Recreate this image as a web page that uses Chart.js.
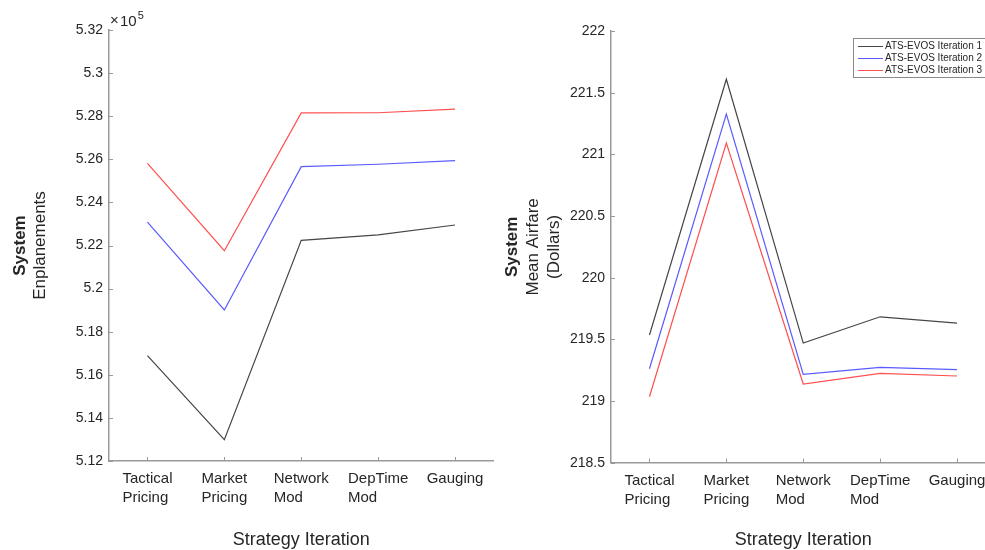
<!DOCTYPE html>
<html lang="en">
<head>
    <meta charset="UTF-8">
    <title>Strategy Iteration - Enplanements and Mean Airfare</title>
    <script src="https://cdn.jsdelivr.net/npm/chart.js"></script>
    <style>
        html, body { margin: 0; padding: 0; background: #fff; overflow: hidden; }
        #wrap { position: relative; width: 985px; height: 550px; overflow: hidden; }
        .panel { position: absolute; top: 0; width: 500px; height: 550px; }
    </style>
</head>
<body>
<div id="wrap">
    <div class="panel" style="left:0"><canvas id="enplChart" width="500" height="550"></canvas></div>
    <div class="panel" style="left:500px"><canvas id="fareChart" width="500" height="550"></canvas></div>
</div>
<script>
    // Strategy steps (x categories)
    const strategies = [['Tactical', 'Pricing'], ['Market', 'Pricing'], ['Network', 'Mod'], ['DepTime', 'Mod'], ['Gauging']];
    const seriesNames = ['ATS-EVOS Iteration 1', 'ATS-EVOS Iteration 2', 'ATS-EVOS Iteration 3'];

    // System enplanements
    const enplIter1 = [516890, 512990, 522240, 522490, 522950];
    const enplIter2 = [523080, 519010, 525660, 525770, 525940];
    const enplIter3 = [525810, 521760, 528150, 528160, 528330];

    // System mean airfare, dollars
    const fareIter1 = [219.535, 221.609, 219.470, 219.683, 219.632];
    const fareIter2 = [219.262, 221.327, 219.216, 219.273, 219.254];
    const fareIter3 = [219.035, 221.092, 219.138, 219.224, 219.203];

    // y axis ranges / tick steps
    const enplRange = [512000, 532000], enplStep = 2000;
    const fareRange = [218.5, 222], fareStep = 0.5;

    const FONT = '"Liberation Sans", Arial, Helvetica, sans-serif';
    const TEXT = '#262626';
    const AXIS = '#999999';
    const lineColors = ['#464646', '#5a5aff', '#ff5050'];

    // draws the matlab-ish bits: inward ticks, left aligned category labels, titles, legend
    function matlabDecor(cfg) {
        return {
            id: 'matlabDecor',
            afterDraw(chart) {
                const ctx = chart.ctx, area = chart.chartArea;
                const xs = chart.scales.x, ys = chart.scales.y;
                ctx.save();

                ctx.strokeStyle = AXIS;
                ctx.lineWidth = 1;
                ctx.beginPath();
                ys.ticks.forEach(t => {
                    const py = Math.round(ys.getPixelForValue(t.value)) + 0.5;
                    ctx.moveTo(area.left, py);
                    ctx.lineTo(area.left + 4, py);
                });
                xs.getLabels().forEach((l, i) => {
                    const px = Math.round(xs.getPixelForValue(i)) + 0.5;
                    ctx.moveTo(px, area.bottom);
                    ctx.lineTo(px, area.bottom - 4);
                });
                ctx.stroke();

                // category labels, lines left aligned, block centred on the tick
                ctx.fillStyle = TEXT;
                ctx.font = '15px ' + FONT;
                ctx.textAlign = 'left';
                ctx.textBaseline = 'alphabetic';
                xs.getLabels().forEach((lab, i) => {
                    const lines = Array.isArray(lab) ? lab : [lab];
                    const w = Math.max(...lines.map(s => ctx.measureText(s).width));
                    const px = xs.getPixelForValue(i);
                    lines.forEach((s, j) => ctx.fillText(s, px - w / 2, area.bottom + 22 + j * 19));
                });

                // x title
                ctx.font = '18px ' + FONT;
                ctx.textAlign = 'center';
                ctx.fillText('Strategy Iteration', (area.left + area.right) / 2, 544.5);

                // y title, rotated, one entry per line
                const cy = (area.top + area.bottom) / 2;
                cfg.yTitle.forEach(line => {
                    ctx.save();
                    ctx.translate(line.x, cy);
                    ctx.rotate(-Math.PI / 2);
                    ctx.font = (line.bold ? 'bold ' : '') + '17px ' + FONT;
                    ctx.textAlign = 'center';
                    ctx.fillText(line.text, 0, 0);
                    ctx.restore();
                });

                // exponent label
                if (cfg.exponent) {
                    ctx.textAlign = 'left';
                    ctx.font = '15px ' + FONT;
                    ctx.fillText('\u00d7', area.left + 1, 25);
                    ctx.fillText('10', area.left + 11, 26);
                    const w = ctx.measureText('10').width;
                    ctx.font = '11px ' + FONT;
                    ctx.fillText(cfg.exponent, area.left + 11 + w + 1, 19);
                }

                // legend box
                if (cfg.legend) {
                    const L = cfg.legend;
                    ctx.fillStyle = '#fff';
                    ctx.fillRect(L.x, L.y, L.w, L.h);
                    ctx.strokeStyle = '#8a8a8a';
                    ctx.lineWidth = 1;
                    ctx.strokeRect(L.x + 0.5, L.y + 0.5, L.w, L.h);
                    ctx.font = '10px ' + FONT;
                    ctx.textAlign = 'left';
                    ctx.textBaseline = 'middle';
                    chart.data.datasets.forEach((ds, i) => {
                        const yy = L.y + 8 + i * 12 + 0.5;
                        ctx.strokeStyle = ds.borderColor;
                        ctx.beginPath();
                        ctx.moveTo(L.x + 5, yy);
                        ctx.lineTo(L.x + 30, yy);
                        ctx.stroke();
                        ctx.fillStyle = TEXT;
                        ctx.fillText(ds.label, L.x + 32, yy);
                    });
                }
                ctx.restore();
            }
        };
    }

    function makeDatasets(series) {
        return series.map((d, i) => ({
            label: seriesNames[i],
            data: d,
            borderColor: lineColors[i],
            backgroundColor: lineColors[i],
            borderWidth: 1.2,
            pointRadius: 0,
            tension: 0,
            fill: false
        }));
    }

    function makeOptions(range, step, fmt, yWidth, xHeight, pad) {
        return {
            responsive: false,
            animation: false,
            layout: { padding: pad },
            plugins: { legend: { display: false }, tooltip: { enabled: false } },
            scales: {
                x: {
                    type: 'category',
                    offset: true,
                    grid: { display: false, drawTicks: false },
                    border: { display: true, color: AXIS, width: 1.5 },
                    ticks: { display: false },
                    afterFit(s) { s.height = xHeight; }
                },
                y: {
                    min: range[0],
                    max: range[1],
                    grid: { display: false, drawTicks: false },
                    border: { display: true, color: AXIS, width: 1.5 },
                    ticks: {
                        stepSize: step,
                        padding: 6,
                        color: TEXT,
                        font: { family: FONT, size: 14 },
                        callback: fmt
                    },
                    afterFit(s) { s.width = yWidth; }
                }
            }
        };
    }

    new Chart(document.getElementById('enplChart'), {
        type: 'line',
        data: { labels: strategies, datasets: makeDatasets([enplIter1, enplIter2, enplIter3]) },
        options: makeOptions(enplRange, enplStep,
            v => String(parseFloat((v / 1e5).toFixed(2))),
            109, 89, { left: 0, top: 30, right: 6.5, bottom: 0 }),
        plugins: [matlabDecor({
            yTitle: [{ text: 'System', bold: true, x: 25 }, { text: 'Enplanements', bold: false, x: 45 }],
            exponent: '5'
        })]
    });

    new Chart(document.getElementById('fareChart'), {
        type: 'line',
        data: { labels: strategies, datasets: makeDatasets([fareIter1, fareIter2, fareIter3]) },
        options: makeOptions(fareRange, fareStep,
            v => String(parseFloat(v.toFixed(2))),
            111, 87.3, { left: 0, top: 31, right: 4.5, bottom: 0 }),
        plugins: [matlabDecor({
            yTitle: [
                { text: 'System', bold: true, x: 17 },
                { text: 'Mean Airfare', bold: false, x: 38 },
                { text: '(Dollars)', bold: false, x: 59 }
            ],
            legend: { x: 353, y: 38, w: 132, h: 39 }
        })]
    });
</script>
</body>
</html>
